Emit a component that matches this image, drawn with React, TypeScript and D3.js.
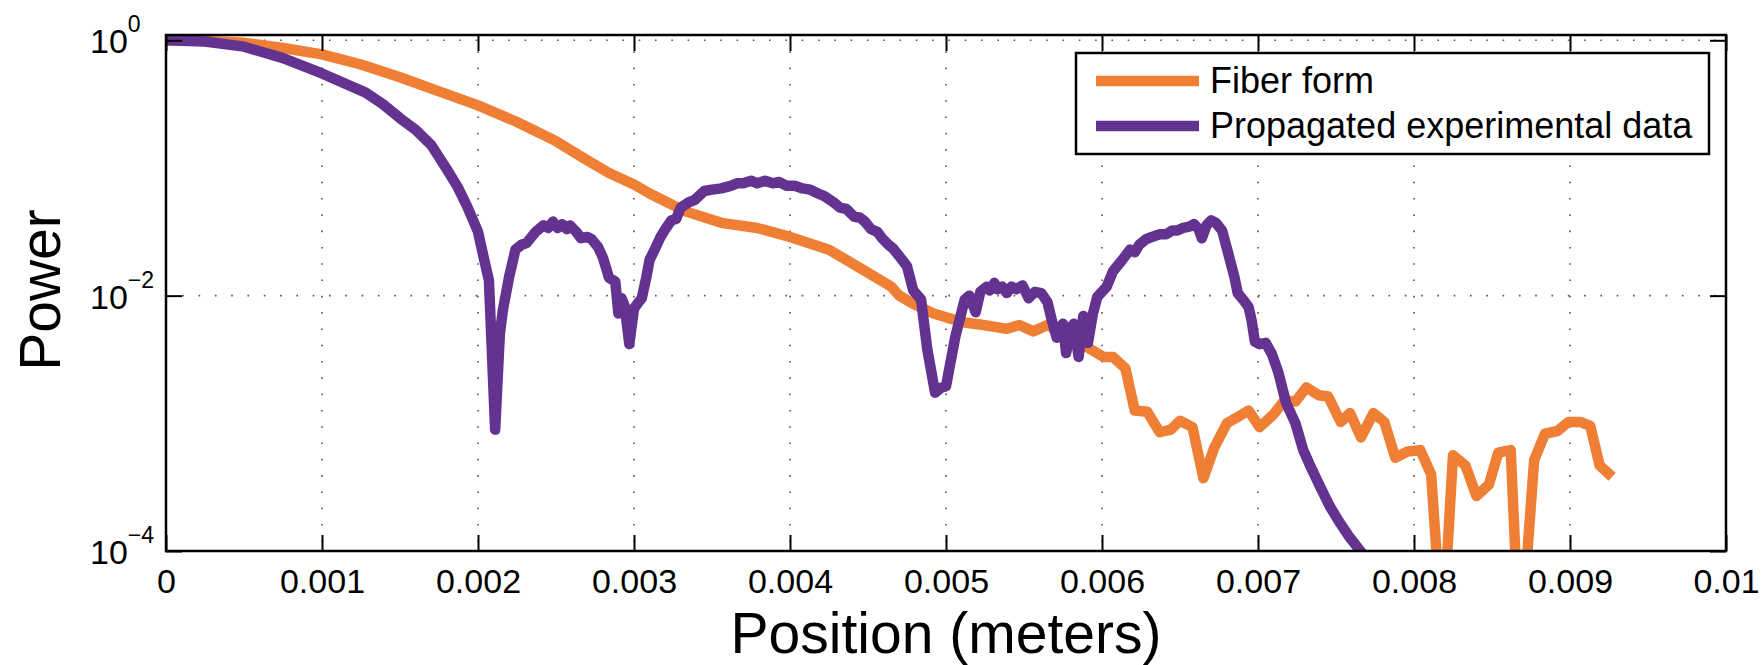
import React, { useRef, useEffect } from "react";
import * as d3 from "d3";

// Positions in meters; power is kept as log10(power)
const fiberPosition = [
  0, 0.00025, 0.0005, 0.00075, 0.001, 0.00125, 0.0015, 0.00175, 0.002, 0.00225,
  0.0025, 0.0027, 0.00284, 0.003, 0.0031, 0.00333, 0.00356, 0.00379, 0.004, 0.00425,
  0.0045, 0.00465, 0.0047, 0.0048, 0.00492, 0.005, 0.00512, 0.00524, 0.00539, 0.00547,
  0.00556, 0.00565, 0.00578, 0.0059, 0.00601, 0.00607, 0.00615, 0.00621, 0.00629, 0.00637,
  0.00644, 0.0065, 0.00658, 0.00665, 0.00672, 0.0068, 0.00687, 0.00694, 0.00701, 0.0071,
  0.00717, 0.00724, 0.00731, 0.00739, 0.00745, 0.00753, 0.00759, 0.00766, 0.00774, 0.00781,
  0.00788, 0.00796, 0.00804, 0.00811, 0.00816, 0.0082, 0.00825, 0.00833, 0.0084, 0.00848,
  0.00854, 0.00862, 0.00866, 0.00871, 0.00877, 0.00884, 0.00892, 0.00899, 0.00907, 0.00913,
  0.00919, 0.00927,
];
const fiberLogPower = [
  0, -0.005, -0.02, -0.06, -0.11, -0.19, -0.29, -0.4, -0.51, -0.64,
  -0.79, -0.94, -1.04, -1.13, -1.2, -1.34, -1.43, -1.47, -1.54, -1.64,
  -1.82, -1.93, -2.0, -2.07, -2.14, -2.17, -2.21, -2.23, -2.26, -2.23,
  -2.28, -2.23, -2.31, -2.4, -2.48, -2.48, -2.57, -2.9, -2.91, -3.07,
  -3.05, -2.98, -3.03, -3.43, -3.19, -3.0, -2.95, -2.9, -3.03, -2.93,
  -2.82, -2.83, -2.72, -2.78, -2.79, -2.99, -2.92, -3.11, -2.92, -2.99,
  -3.27, -3.22, -3.21, -3.4, -4.3, -4.3, -3.25, -3.33, -3.57, -3.48,
  -3.23, -3.21, -4.3, -4.3, -3.29, -3.08, -3.06, -2.99, -2.99, -3.02,
  -3.33, -3.42,
];

const expPosition = [
  0, 0.00025, 0.0005, 0.00075, 0.001, 0.00128, 0.00139, 0.0015, 0.0016,
  0.0017, 0.0018, 0.00187, 0.00193, 0.002, 0.00204, 0.00207, 0.00211, 0.00214, 0.00216,
  0.0022, 0.00224, 0.00228, 0.00231, 0.00237, 0.00242, 0.00245, 0.00248, 0.00251, 0.00254,
  0.00257, 0.00259, 0.00263, 0.00266, 0.0027, 0.00273, 0.00277, 0.0028, 0.00284, 0.00288,
  0.0029, 0.00292, 0.00294, 0.00297, 0.003, 0.00303, 0.00305, 0.00308, 0.0031, 0.00314,
  0.00317, 0.0032, 0.00324, 0.00327, 0.0033, 0.00335, 0.00339, 0.00345, 0.0035, 0.00356,
  0.00362, 0.00366, 0.0037, 0.00375, 0.00379, 0.00384, 0.00389, 0.00393, 0.00398, 0.00403,
  0.00408, 0.00413, 0.00418, 0.00422, 0.00428, 0.00432, 0.00436, 0.00441, 0.00445, 0.00448,
  0.00452, 0.00456, 0.00459, 0.00463, 0.00466, 0.0047, 0.00475, 0.00479, 0.00484, 0.00488,
  0.00493, 0.00497, 0.005, 0.00506, 0.00512, 0.00515, 0.00519, 0.00522, 0.00526, 0.00528,
  0.00531, 0.00533, 0.00536, 0.00539, 0.00542, 0.00545, 0.00549, 0.00553, 0.00557, 0.00561,
  0.00565, 0.00568, 0.00571, 0.00573, 0.00575, 0.00577, 0.0058, 0.00582, 0.00585, 0.00588,
  0.00591, 0.00594, 0.00597, 0.00603, 0.00607, 0.00613, 0.00618, 0.00621, 0.00624, 0.00628,
  0.00632, 0.00637, 0.00641, 0.00645, 0.00648, 0.00652, 0.00656, 0.00659, 0.00662, 0.00664,
  0.00667, 0.0067, 0.00673, 0.00677, 0.00682, 0.00685, 0.00687, 0.00691, 0.00694, 0.00696,
  0.00698, 0.00701, 0.00705, 0.00709, 0.00713, 0.00718, 0.00724, 0.00729, 0.00733, 0.0074,
  0.00746, 0.00752, 0.00758, 0.00765, 0.00767,
];
const expLogPower = [
  0, -0.01, -0.05, -0.14, -0.26, -0.41, -0.5, -0.61, -0.7,
  -0.82, -1.01, -1.15, -1.3, -1.5, -1.72, -1.88, -3.05, -2.3, -2.11,
  -1.85, -1.64, -1.6, -1.59, -1.5, -1.45, -1.47, -1.42, -1.47, -1.44,
  -1.48, -1.45, -1.5, -1.55, -1.54, -1.56, -1.62, -1.7, -1.86, -1.89,
  -2.14, -2.02, -2.08, -2.38, -2.1, -2.05, -2.02, -1.85, -1.72, -1.62,
  -1.54, -1.48, -1.41, -1.4, -1.31, -1.27, -1.25, -1.18, -1.17, -1.16,
  -1.14, -1.12, -1.12, -1.1, -1.12, -1.1, -1.12, -1.11, -1.14, -1.14,
  -1.16, -1.17, -1.2, -1.22, -1.27, -1.31, -1.32, -1.38, -1.39, -1.42,
  -1.48, -1.5, -1.55, -1.6, -1.63, -1.69, -1.77, -1.96, -2.03, -2.42,
  -2.76, -2.72, -2.71, -2.32, -2.03, -2.0, -2.13, -1.97, -1.93, -1.96,
  -1.9, -1.95, -1.93, -1.98, -1.93, -1.95, -1.92, -2.02, -1.97, -1.98,
  -2.05, -2.2, -2.33, -2.25, -2.22, -2.45, -2.25, -2.22, -2.48, -2.16,
  -2.37, -2.15, -2.01, -1.93, -1.81, -1.72, -1.64, -1.66, -1.6, -1.56,
  -1.54, -1.52, -1.52, -1.49, -1.49, -1.47, -1.46, -1.44, -1.48, -1.55,
  -1.45, -1.41, -1.43, -1.49, -1.72, -1.86, -1.98, -2.04, -2.09, -2.2,
  -2.36, -2.38, -2.37, -2.46, -2.6, -2.84, -3.0, -3.21, -3.32, -3.5,
  -3.65, -3.77, -3.88, -3.99, -4.02,
];

const xTickValues = [0, 0.001, 0.002, 0.003, 0.004, 0.005, 0.006, 0.007, 0.008, 0.009, 0.01];
const xTickLabels = ["0", "0.001", "0.002", "0.003", "0.004", "0.005", "0.006", "0.007", "0.008", "0.009", "0.01"];
const yTickValues = [1, 1e-2, 1e-4];
const yTickExponents = ["0", "\u22122", "\u22124"];
const seriesNames = ["Fiber form", "Propagated experimental data"];
const seriesColors = ["#f07f36", "#643290"];

const FONT = "'Liberation Sans', Arial, Helvetica, sans-serif";

const PowerChart = () => {
  const svgRef = useRef(null);

  useEffect(() => {
    const width = 1764;
    const height = 665;
    const margin = { top: 35, right: 38, bottom: 114, left: 166 };
    const innerWidth = width - margin.left - margin.right;
    const innerHeight = height - margin.top - margin.bottom;

    d3.select(svgRef.current).selectAll("*").remove();

    const svg = d3
      .select(svgRef.current)
      .attr("width", width)
      .attr("height", height)
      .style("font-family", FONT);

    const chart = svg
      .append("g")
      .attr("transform", `translate(${margin.left},${margin.top})`);

    const xScale = d3.scaleLinear().domain([0, 0.01]).range([0, innerWidth]);
    const yScale = d3.scaleLog().domain([1e-4, 1.1]).range([innerHeight, 0]);

    // dotted grid
    const grid = chart.append("g").attr("stroke", "#555").attr("stroke-width", 1.6).attr("stroke-dasharray", "1.6 14.7");
    xTickValues.slice(1, -1).forEach((t) => {
      grid.append("line").attr("x1", xScale(t)).attr("x2", xScale(t)).attr("y1", 0).attr("y2", innerHeight);
    });
    yTickValues.slice(0, 2).forEach((t) => {
      grid.append("line").attr("x1", 0).attr("x2", innerWidth).attr("y1", yScale(t)).attr("y2", yScale(t));
    });

    // data lines, clipped to the axes box
    chart
      .append("clipPath")
      .attr("id", "plot-clip")
      .append("rect")
      .attr("width", innerWidth)
      .attr("height", innerHeight);

    const line = d3
      .line()
      .x((d) => xScale(d[0]))
      .y((d) => yScale(Math.pow(10, d[1])));

    const fiber = fiberPosition.map((p, i) => [p, fiberLogPower[i]]);
    const exp = expPosition.map((p, i) => [p, expLogPower[i]]);

    const lines = chart.append("g").attr("clip-path", "url(#plot-clip)");
    [fiber, exp].forEach((data, i) => {
      lines
        .append("path")
        .datum(data)
        .attr("d", line)
        .attr("fill", "none")
        .attr("stroke", seriesColors[i])
        .attr("stroke-width", 10.5)
        .attr("stroke-linejoin", "round");
    });

    // axes: inward ticks on all four sides
    const tickLen = 16;
    const styleAxis = (g) => {
      g.select(".domain").remove();
      g.selectAll("line").attr("stroke", "#000").attr("stroke-width", 2);
    };

    const bottom = chart
      .append("g")
      .attr("transform", `translate(0,${innerHeight})`)
      .call(
        d3.axisBottom(xScale).tickValues(xTickValues).tickSize(-tickLen)
          .tickFormat((d, i) => xTickLabels[i])
      );
    styleAxis(bottom);
    bottom
      .selectAll("text")
      .attr("y", 42)
      .attr("dy", 0)
      .attr("fill", "#000")
      .style("font-size", "34px")
      .style("font-family", FONT);

    const top = chart.append("g").call(d3.axisTop(xScale).tickValues(xTickValues).tickSize(-tickLen).tickFormat(() => ""));
    styleAxis(top);

    const left = chart.append("g").call(d3.axisLeft(yScale).tickValues(yTickValues).tickSize(-tickLen).tickFormat(() => ""));
    styleAxis(left);

    const right = chart
      .append("g")
      .attr("transform", `translate(${innerWidth},0)`)
      .call(d3.axisRight(yScale).tickValues(yTickValues).tickSize(-tickLen).tickFormat(() => ""));
    styleAxis(right);

    // y tick labels as 10^n
    yTickValues.forEach((t, i) => {
      const txt = chart
        .append("text")
        .attr("x", -76)
        .attr("y", yScale(t) + 13)
        .attr("fill", "#000")
        .style("font-size", "34px");
      txt.append("tspan").text("10");
      txt.append("tspan").attr("dy", -21).style("font-size", "23px").text(yTickExponents[i]);
    });

    // axes box
    chart
      .append("rect")
      .attr("width", innerWidth)
      .attr("height", innerHeight)
      .attr("fill", "none")
      .attr("stroke", "#000")
      .attr("stroke-width", 2.5);

    // axis titles
    chart
      .append("text")
      .attr("x", innerWidth / 2)
      .attr("y", innerHeight + 102)
      .attr("text-anchor", "middle")
      .style("font-size", "57px")
      .text("Position (meters)");

    svg
      .append("text")
      .attr("transform", "translate(60,290) rotate(-90)")
      .attr("text-anchor", "middle")
      .style("font-size", "57px")
      .text("Power");

    // legend
    const legend = svg.append("g");
    legend
      .append("rect")
      .attr("x", 1076)
      .attr("y", 53)
      .attr("width", 633)
      .attr("height", 101)
      .attr("fill", "#fff")
      .attr("stroke", "#000")
      .attr("stroke-width", 2.5);
    seriesNames.forEach((name, i) => {
      const cy = 81 + i * 45;
      legend
        .append("line")
        .attr("x1", 1096)
        .attr("x2", 1199)
        .attr("y1", cy)
        .attr("y2", cy)
        .attr("stroke", seriesColors[i])
        .attr("stroke-width", 10.5);
      legend
        .append("text")
        .attr("x", 1210)
        .attr("y", cy + 12)
        .style("font-size", "36px")
        .text(name);
    });
  }, []);

  return (
    <div style={{ position: "absolute", left: 0, top: 0 }}>
      <svg ref={svgRef} style={{ display: "block" }} />
    </div>
  );
};

export default function App() {
  return <PowerChart />;
}
